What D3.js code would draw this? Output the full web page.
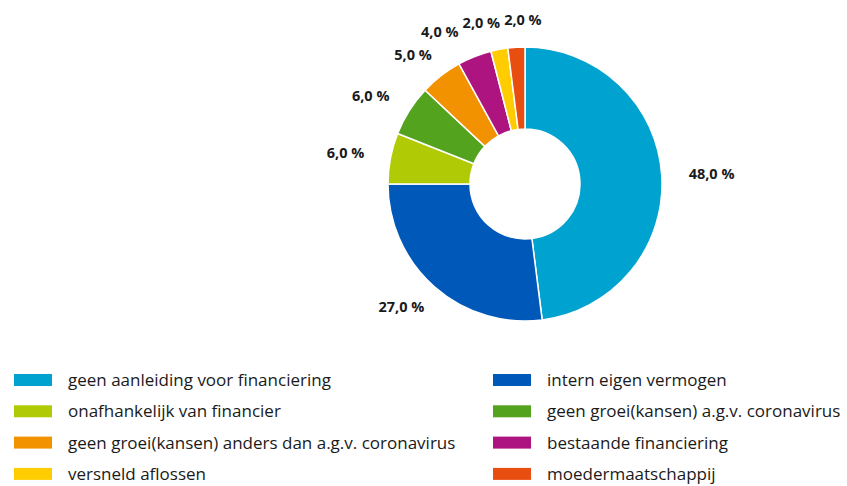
<!DOCTYPE html>
<html>
<head>
<meta charset="utf-8">
<script src="https://cdn.jsdelivr.net/npm/d3@7"></script>
<style>
  body { margin: 0; background: #fff; }
  svg text { font-family: "Open Sans", "Liberation Sans", Arial, sans-serif; fill: #1a1a1a; }
  .lbl { font-weight: bold; font-size: 14.5px; }
  .leg { font-size: 17px; }
</style>
</head>
<body>
<div id="chart"></div>
<script>
var categories = [
  'geen aanleiding voor financiering',
  'intern eigen vermogen',
  'onafhankelijk van financier',
  'geen groei(kansen) a.g.v. coronavirus',
  'geen groei(kansen) anders dan a.g.v. coronavirus',
  'bestaande financiering',
  'versneld aflossen',
  'moedermaatschappij'
]
var values = [48, 27, 6, 6, 5, 4, 2, 2]
var colors = ['#00a3cf', '#0058b8', '#b0cb05', '#54a31f', '#f39200', '#ae1480', '#ffcc00', '#e84e0f']

var W = 847, H = 486
var cx = 525, cy = 184, rOut = 137, rIn = 55, rLbl = 164

var svg = d3.select('#chart').append('svg').attr('width', W).attr('height', H)

var data = categories.map(function(c, i){ return {name: c, value: values[i], color: colors[i]} })

var pie = d3.pie().value(d => d.value).sort(null)
var arc = d3.arc().innerRadius(rIn).outerRadius(rOut)
var arcs = pie(data)

var g = svg.append('g').attr('transform', 'translate(' + cx + ',' + cy + ')')

g.selectAll('path').data(arcs).join('path')
  .attr('d', arc)
  .attr('fill', d => d.data.color)
  .attr('stroke', '#fff')
  .attr('stroke-width', 1.5)

var fmt = v => d3.format('.1f')(v).replace('.', ',') + ' %'

var lbls = g.selectAll('text.lbl').data(arcs).join('text')
  .attr('class', 'lbl')
  .attr('text-anchor', 'middle')
  .attr('dy', '0.35em')
  .text(d => fmt(d.data.value))

// initial placement along the mid angle, pushed out by half the label width
var pos = arcs.map(function(d, i){
  var a = (d.startAngle + d.endAngle) / 2
  var w = lbls.nodes()[i].getComputedTextLength()
  return {x: Math.sin(a) * rLbl + Math.sin(a) * w / 2, y: -Math.cos(a) * rLbl, w: w, h: 15}
})

// spread overlapping neighbours (walk back from the last slice)
for (var k = 0; k < 10; k++) {
  for (var i = pos.length - 1; i > 0; i--) {
    var a = pos[i], b = pos[i - 1]
    var need = (a.w + b.w) / 2 + 4
    if (Math.abs(a.y - b.y) < a.h && Math.abs(a.x - b.x) < need) {
      var shift = (need - Math.abs(a.x - b.x)) / 2
      if (i == pos.length - 1) { a.x += shift; b.x -= shift }
      else { b.x -= shift * 2 }
    }
  }
}

lbls.attr('x', (d, i) => pos[i].x).attr('y', (d, i) => pos[i].y)

// legend
var leg = svg.append('g')
var colX = [14, 493], rowY0 = 380, rowH = 31.3

var items = leg.selectAll('g').data(data).join('g')
  .attr('transform', (d, i) => 'translate(' + colX[i % 2] + ',' + (rowY0 + Math.floor(i / 2) * rowH) + ')')

items.append('rect')
  .attr('x', 0).attr('y', -6)
  .attr('width', 38).attr('height', 12)
  .attr('fill', d => d.color)

items.append('text')
  .attr('class', 'leg')
  .attr('x', 54)
  .attr('dy', '0.35em')
  .text(d => d.name)
</script>
</body>
</html>
